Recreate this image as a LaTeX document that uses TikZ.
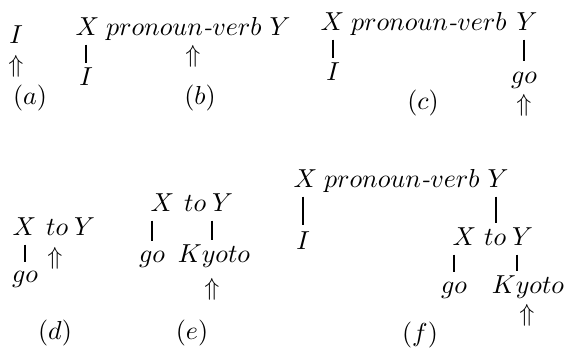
\documentclass[tikz,border=0pt]{standalone}
\begin{document}
\begin{tikzpicture}[x=1pt,y=-1pt,
  every node/.style={inner sep=0pt, scale=2.6},
  w/.style={anchor=base},
  wl/.style={anchor=base west},
  arrw/.style={scale=0.95},
  link/.style={line width=1.8pt}]
\useasboundingbox (0,0) rectangle (568,349);
% (a)
\node[w] (aI) at (16,43) {$I$};
\node[arrw] (aA) at (16,66) {$\Uparrow$};
\node[w] (aL) at (30,104) {$(a)$};
% (b)
\node[wl] (bX) at (75,35) {$X$};
\node[wl] (bP) at ([xshift=6pt]bX.base east) {$pronoun\textit{-}verb$};
\node[wl] (bY) at ([xshift=7pt]bP.base east) {$Y$};
\node[w] (bI) at (86,85) {$I$};
\draw[link] ([yshift=-9pt]bI.north |- bX.south) -- ([yshift=4pt]bI.north);
\node[arrw] (bA) at (193,56) {$\Uparrow$};
\node[w] (bL) at (200,104) {$(b)$};
% (c)
\node[wl] (cX) at (320,30) {$X$};
\node[wl] (cP) at ([xshift=6pt]cX.base east) {$pronoun\textit{-}verb$};
\node[wl] (cY) at ([xshift=9pt]cP.base east) {$Y$};
\node[w] (cI) at (333,80) {$I$};
\draw[link] ([yshift=-9pt]cI.north |- cX.south) -- ([yshift=4pt]cI.north);
\node[w] (cgo) at (524,83) {$go$};
\draw[link] ([yshift=-9pt]cgo.north |- cY.south) -- ([yshift=10pt]cgo.north);
\node[arrw] (cA) at (524,105) {$\Uparrow$};
\node[w] (cL) at (423,109) {$(c)$};
% (d)
\node[wl] (dX) at (12,235) {$X$};
\node[wl] (dto) at ([xshift=9pt]dX.base east) {$to$};
\node[wl] (dY) at ([xshift=5pt]dto.base east) {$Y$};
\node[w] (dgo) at (25,282) {$go$};
\draw[link] ([yshift=-9pt]dgo.north |- dX.south) -- ([yshift=8pt]dgo.north);
\node[arrw] (dA) at (55,258) {$\Uparrow$};
\node[w] (dL) at (55,339) {$(d)$};
% (e)
\node[wl] (eX) at (150,211) {$X$};
\node[wl] (eto) at ([xshift=9pt]eX.base east) {$to$};
\node[wl] (eY) at ([xshift=5pt]eto.base east) {$Y$};
\node[w] (ego) at (152,262) {$go$};
\node[w] (eK) at (214,262) {$Kyoto$};
\draw[link] ([yshift=-9pt]ego.north |- eX.south) -- ([yshift=9pt]ego.north);
\draw[link] ([xshift=-2pt,yshift=-9pt]eK.north |- eY.south) -- ([xshift=-2pt,yshift=4pt]eK.north);
\node[arrw] (eA) at (212,289) {$\Uparrow$};
\node[w] (eL) at (192,339) {$(e)$};
% (f)
\node[wl] (fX) at (293,187) {$X$};
\node[wl] (fP) at ([xshift=6pt]fX.base east) {$pronoun\textit{-}verb$};
\node[wl] (fY) at ([xshift=7pt]fP.base east) {$Y$};
\node[w] (fI) at (303,249) {$I$};
\draw[link] ([yshift=-9pt]fI.north |- fX.south) -- ([yshift=6pt]fI.north);
\node[wl] (fX2) at (452,245) {$X$};
\node[wl] (fto) at ([xshift=7pt]fX2.base east) {$to$};
\node[wl] (fY2) at ([xshift=5pt]fto.base east) {$Y$};
\draw[link] ([xshift=-2pt,yshift=-9pt]fY.south) -- ([xshift=-2pt,yshift=5pt]fY.south |- fto.north);
\node[w] (fgo) at (454,293) {$go$};
\node[w] (fK) at (528,293) {$Kyoto$};
\draw[link] ([yshift=-9pt]fgo.north |- fX2.south) -- ([yshift=9pt]fgo.north);
\draw[link] ([xshift=-11pt,yshift=-9pt]fK.north |- fY2.south) -- ([xshift=-11pt,yshift=4pt]fK.north);
\node[arrw] (fA) at (527,315) {$\Uparrow$};
\node[w] (fL) at (420,341) {$(f)$};
\end{tikzpicture}
\end{document}
